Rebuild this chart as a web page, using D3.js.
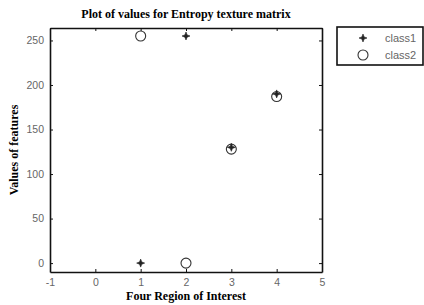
<!DOCTYPE html>
<html>
<head>
<meta charset="utf-8">
<script src="https://cdn.jsdelivr.net/npm/d3@7"></script>
<style>
  body { margin: 0; background: #fff; }
  svg { display: block; }
</style>
</head>
<body>
<svg width="424" height="305"></svg>
<script>
// data
const regions = [1, 2, 3, 4];
const class1 = [0, 255, 130, 190];
const class2 = [255, 0, 128, 187];
const xTicks = [-1, 0, 1, 2, 3, 4, 5];
const yTicks = [0, 50, 100, 150, 200, 250];

const svg = d3.select('svg');
const margin = {top: 28, right: 102, bottom: 33, left: 50};
const width = 424 - margin.left - margin.right;
const height = 305 - margin.top - margin.bottom;

const graph = svg.append('g')
  .attr('transform', `translate(${margin.left},${margin.top})`);

const x = d3.scaleLinear().domain([-1, 5]).range([0, width]);
const y = d3.scaleLinear().domain([-10, 264]).range([height, 0]);

// axes, ticks point inward like matlab
const tickFont = g => g.selectAll('text')
  .attr('fill', '#666')
  .style('font-family', 'Liberation Sans, Arial, sans-serif')
  .style('font-size', '10.5px');

const xAxis = graph.append('g')
  .attr('transform', `translate(0,${height})`)
  .call(d3.axisBottom(x).tickValues(xTicks).tickFormat(d => String(d))
    .tickSizeInner(-3).tickSizeOuter(0).tickPadding(7));
const yAxis = graph.append('g')
  .call(d3.axisLeft(y).tickValues(yTicks).tickSizeInner(-3).tickSizeOuter(0).tickPadding(6));
const xTop = graph.append('g')
  .call(d3.axisTop(x).tickValues(xTicks).tickSizeInner(-3).tickSizeOuter(0).tickFormat(''));
const yRight = graph.append('g')
  .attr('transform', `translate(${width},0)`)
  .call(d3.axisRight(y).tickValues(yTicks).tickSizeInner(-3).tickSizeOuter(0).tickFormat(''));

[xAxis, yAxis, xTop, yRight].forEach(g => {
  g.call(tickFont);
  g.select('.domain').attr('stroke', '#111').attr('stroke-width', 1.6);
  g.selectAll('line').attr('stroke', '#111');
});

// small 4 point star, like the matlab '*' marker at this size
const sparkle = {
  draw(ctx, size) {
    const r = Math.sqrt(size) / 2, k = r * 0.28;
    ctx.moveTo(0, -r);
    ctx.lineTo(k, -k); ctx.lineTo(r, 0); ctx.lineTo(k, k);
    ctx.lineTo(0, r); ctx.lineTo(-k, k); ctx.lineTo(-r, 0); ctx.lineTo(-k, -k);
    ctx.closePath();
  }
};
const star = d3.symbol().type(sparkle).size(64);

// class2 circles
graph.selectAll('circle.c2')
  .data(regions)
  .enter()
  .append('circle')
  .attr('class', 'c2')
  .attr('cx', d => x(d))
  .attr('cy', (d, i) => y(class2[i]))
  .attr('r', 5)
  .attr('fill', 'none')
  .attr('stroke', '#333')
  .attr('stroke-width', 1.1);

// class1 stars
graph.selectAll('path.c1')
  .data(regions)
  .enter()
  .append('path')
  .attr('class', 'c1')
  .attr('d', star)
  .attr('transform', (d, i) => `translate(${x(d)},${y(class1[i])})`)
  .attr('fill', '#222')
  .attr('stroke', '#222')
  .attr('stroke-width', 0.6);

// title and labels
const serif = 'Liberation Serif, Times New Roman, serif';
svg.append('text')
  .attr('x', margin.left + width / 2)
  .attr('y', 18)
  .attr('text-anchor', 'middle')
  .style('font-family', serif)
  .style('font-weight', 'bold')
  .style('font-size', '12px')
  .text('Plot of values for Entropy texture matrix');

svg.append('text')
  .attr('x', margin.left + width / 2)
  .attr('y', 300)
  .attr('text-anchor', 'middle')
  .style('font-family', serif)
  .style('font-weight', 'bold')
  .style('font-size', '12px')
  .text('Four Region of Interest');

svg.append('text')
  .attr('transform', `translate(18,${margin.top + height / 2}) rotate(-90)`)
  .attr('text-anchor', 'middle')
  .style('font-family', serif)
  .style('font-weight', 'bold')
  .style('font-size', '12px')
  .text('Values of features');

// legend
const legend = svg.append('g').attr('transform', 'translate(337,27)');
legend.append('rect')
  .attr('width', 86)
  .attr('height', 38)
  .attr('fill', '#fff')
  .attr('stroke', '#111')
  .attr('stroke-width', 1.6);
legend.append('path')
  .attr('d', star)
  .attr('transform', 'translate(26,11)')
  .attr('fill', '#222')
  .attr('stroke', '#222')
  .attr('stroke-width', 0.6);
legend.append('circle')
  .attr('cx', 26).attr('cy', 28).attr('r', 5)
  .attr('fill', 'none').attr('stroke', '#333').attr('stroke-width', 1.1);
['class1', 'class2'].forEach((t, i) => {
  legend.append('text')
    .attr('x', 48)
    .attr('y', 15 + i * 17)
    .attr('fill', '#666')
    .style('font-family', 'Liberation Sans, Arial, sans-serif')
    .style('font-size', '11px')
    .text(t);
});
</script>
</body>
</html>
